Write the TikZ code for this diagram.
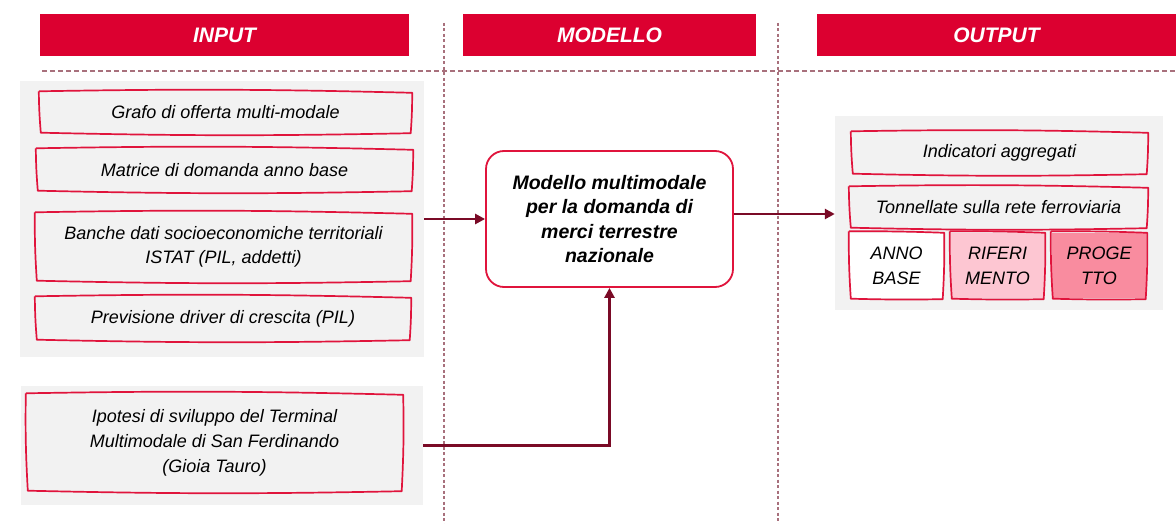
\documentclass[tikz,border=0pt]{standalone}
\usepackage{fontspec}
\setmainfont{Liberation Sans}
\usetikzlibrary{arrows.meta,calc}
\definecolor{hdrred}{HTML}{DC0030}
\definecolor{boxred}{HTML}{E0143C}
\definecolor{connc}{HTML}{7A0A26}
\definecolor{dashc}{HTML}{A8707C}
\definecolor{pgray}{HTML}{F2F2F2}
\definecolor{pinka}{HTML}{FDC6D2}
\definecolor{pinkb}{HTML}{F98C9F}
\tikzset{
  hdr/.style={fill=hdrred, text=white, inner sep=0pt,
    font=\fontsize{21}{25}\selectfont\bfseries\itshape},
  panel/.style={fill=pgray, draw=none, inner sep=0pt},
  inbox/.style={fill=pgray, draw=none, inner sep=0pt, align=center,
    font=\fontsize{18}{23.5}\selectfont\itshape},
  modelbox/.style={fill=white, draw=boxred, line width=1.8pt, rounded corners=18pt,
    inner sep=0pt, align=center, font=\fontsize{19.5}{24.4}\selectfont\bfseries\itshape},
  skline/.style={draw=boxred, line width=1.7pt, line join=round},
  conn/.style={draw=connc, line width=2.5pt, -{Triangle[length=10pt,width=10pt]}},
  sep/.style={draw=dashc, line width=1.1pt, dash pattern=on 3pt off 2.5pt},
}
% box by corners: name, style, x1, y1, x2, y2, text
\newcommand\bx[7]{\node[#2, minimum width={(#5-#3)*1pt}, minimum height={(#6-#4)*1pt}] (#1) at ({(#3+#5)/2},{(#4+#6)/2}) {#7};}
\newcommand\skb[1]{\draw[skline] ([shift={(-1pt,1.5pt)}]#1.north west) to[bend left=1.2] ([shift={(1pt,0pt)}]#1.north east) to[bend left=2] ([shift={(-0.5pt,-1pt)}]#1.south east) to[bend left=1.2] ([shift={(1pt,-0.5pt)}]#1.south west) to[bend left=2] ([shift={(-1pt,1.5pt)}]#1.north west);}
\begin{document}
\begin{tikzpicture}[x=1pt,y=-1pt]
\useasboundingbox[fill=white] (0,0) rectangle (1176,524);
% headers
\bx{hin}{hdr}{40}{14}{409}{56}{INPUT}
\bx{hmod}{hdr}{463}{14}{756}{56}{MODELLO}
\bx{hout}{hdr}{817}{14}{1176}{56}{OUTPUT}
% separators
\coordinate (s1t) at (444,23); \coordinate (s1b) at (444,524);
\coordinate (s2t) at (778,23); \coordinate (s2b) at (778,524);
\coordinate (hl) at (42,71); \coordinate (hr) at (1176,71);
\draw[sep] (s1t) -- (s1b);
\draw[sep] (s2t) -- (s2b);
\draw[sep, dash pattern=on 5pt off 3pt] (hl) -- (hr);
% panels
\bx{pin}{panel}{20}{81}{424}{357}{}
\bx{pip}{panel}{21}{386}{423}{505}{}
\bx{pout}{panel}{835}{116}{1163}{310}{}
% input boxes
\bx{grafo}{inbox}{40}{93}{411}{132}{Grafo di offerta multi-modale}
\bx{matrice}{inbox}{37}{150}{412}{190}{Matrice di domanda anno base}
\bx{banche}{inbox}{36}{214}{411}{280}{Banche dati socioeconomiche territoriali\\ISTAT (PIL, addetti)}
\bx{previs}{inbox}{36}{298}{410}{339}{Previsione driver di crescita (PIL)}
\bx{ipotesi}{inbox, font=\fontsize{18}{25}\selectfont\itshape}{27}{395}{402}{490}{Ipotesi di sviluppo del Terminal\\Multimodale di San Ferdinando\\(Gioia Tauro)}
\foreach \n in {grafo,matrice,banche,previs,ipotesi} {\skb{\n}}
% model
\bx{model}{modelbox}{486}{151}{733}{287}{Modello multimodale\\per la domanda di\\merci terrestre\\nazionale}
% output boxes
\bx{indic}{inbox}{852}{133}{1147}{173}{Indicatori aggregati}
\bx{tonn}{inbox}{850}{188}{1147}{227}{Tonnellate sulla rete ferroviaria}
\bx{anno}{inbox, fill=white, font=\fontsize{18}{25}\selectfont\itshape}{850}{233}{943}{298}{ANNO\\BASE}
\bx{rif}{inbox, fill=pinka, font=\fontsize{18}{25}\selectfont\itshape}{951}{233}{1044}{298}{RIFERI\\MENTO}
\bx{prog}{inbox, fill=pinkb, font=\fontsize{18}{25}\selectfont\itshape}{1052}{233}{1146}{298}{PROGE\\TTO}
\foreach \n in {indic,tonn,anno,rif,prog} {\skb{\n}}
% connectors
\draw[conn] (pin.east |- model.west) -- (model.west);
\draw[conn] ([yshift=5pt]model.east) -- ([yshift=5pt]model.east -| pout.west);
\draw[conn] (pip.east) -| (model.south);
\end{tikzpicture}
\end{document}
